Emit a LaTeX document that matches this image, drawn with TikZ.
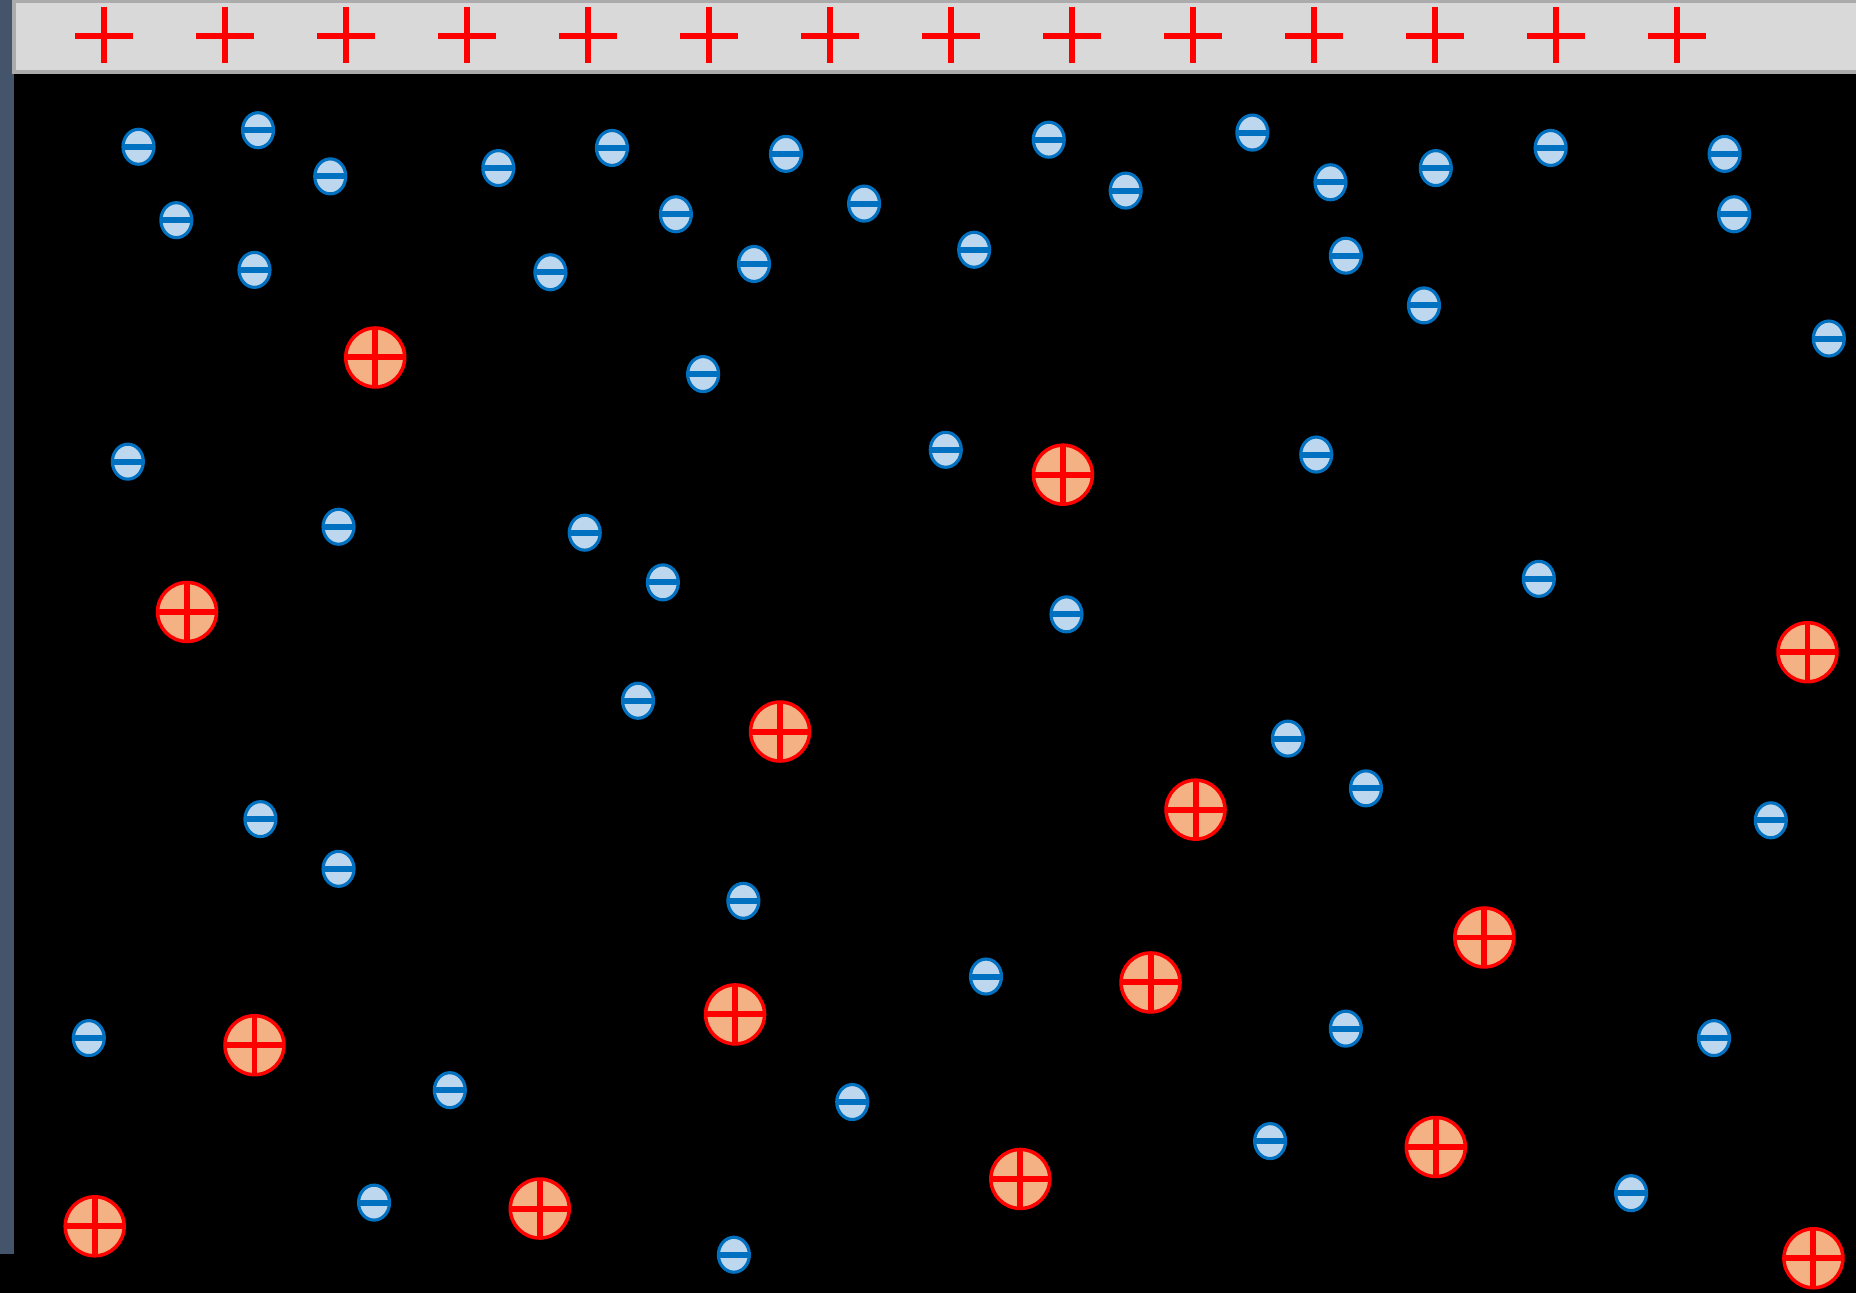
\documentclass[tikz,border=0pt]{standalone}
\usetikzlibrary{shapes.geometric}
\definecolor{ionred}{HTML}{FF0000}
\definecolor{ionfill}{HTML}{F4B183}
\definecolor{elblue}{HTML}{0070C0}
\definecolor{elfill}{HTML}{BDD7EE}
\definecolor{platefill}{HTML}{D9D9D9}
\definecolor{plateedge}{HTML}{ABABAB}
\definecolor{sidebar}{HTML}{44546A}
\tikzset{
  electron/.style = {ellipse, draw=elblue, line width=0.9pt, fill=elfill, minimum width=3.1mm,
                     minimum height=3.5mm, inner sep=0pt,
                     path picture={\draw[elblue, line width=1.7pt] (path picture bounding box.west)
                       -- (path picture bounding box.east);}},
  ion/.style      = {circle, draw=ionred, line width=1pt, fill=ionfill, minimum size=5.9mm, inner sep=0pt,
                     path picture={\draw[ionred, line width=1.7pt] (path picture bounding box.west)
                       -- (path picture bounding box.east) (path picture bounding box.north)
                       -- (path picture bounding box.south);}},
  charge/.style   = {ionred, line width=1.7pt},
}

\begin{document}
\begin{tikzpicture}[x=0.0118367cm, y=-0.0118367cm]
  \fill[black] (0,0) rectangle (1568,1092);
  \useasboundingbox (0,0) rectangle (1568,1092);
  \fill[sidebar] (0,0) rectangle (11.8,1059);
  % charged plate
  \draw[plateedge, fill=platefill, line width=1pt] (11.8,0.8) rectangle (1572,61);
  \foreach \k in {0,...,13}
    \draw[charge] ({88+102.23*\k},5.9) -- ++(0,47.3) ({88+102.23*\k-24.5},30) -- ++(49,0);
  % free electrons
  \foreach \x/\y [count=\n] in {117/124, 218/110, 279/149, 149/186, 215/228, 421/142, 517/125,
      571/181, 465/230, 664/130, 730/172, 637/223, 886/118, 951/161, 823/211, 1058/112,
      1124/154, 1137/216, 1213/142, 1310/125, 1203/258, 1457/130, 1465/181, 1545/286,
      594/316, 108/390, 286/445, 494/450, 560/492, 799/380, 1112/384, 901/519, 1300/489,
      539/592, 1088/624, 1154/666, 1496/693, 220/692, 286/734, 628/761, 833/825, 1137/869,
      1448/877, 75/877, 380/921, 720/931, 1073/964, 316/1016, 620/1060, 1378/1008}
    \node[electron] (e\n) at (\x,\y) {};
  % positive ions
  \foreach \x/\y [count=\n] in {317/302, 898/401, 158/517, 1527/551, 659/618, 1010/684,
      1254/792, 972/830, 621/857, 215/883, 1213/969, 862/996, 456/1021, 80/1036, 1532/1063}
    \node[ion] (i\n) at (\x,\y) {};
\end{tikzpicture}
\end{document}
